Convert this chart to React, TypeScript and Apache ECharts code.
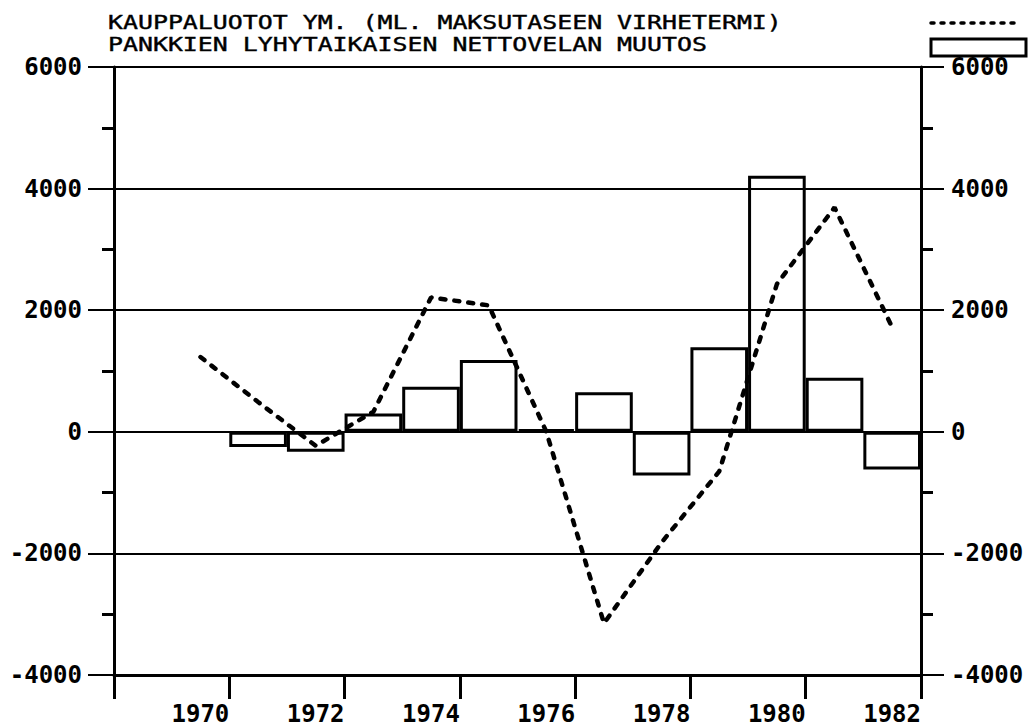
import React, { useEffect, useRef } from "react";
import * as echarts from "echarts";

const years = ["1969", "1970", "1971", "1972", "1973", "1974", "1975", "1976", "1977", "1978", "1979", "1980", "1981", "1982"];
const barValues = [null, null, -250, -330, 300, 740, 1180, 40, 650, -720, 1390, 4210, 890, -620];
const lineValues = [null, 1230, 490, -230, 330, 2210, 2080, 0, -3150, -1820, -650, 2430, 3690, 1720];
const xTickValues = [1968, 1970, 1972, 1974, 1976, 1978, 1980, 1982];
const titleLine1 = "KAUPPALUOTOT YM. (ML. MAKSUTASEEN VIRHETERMI)";
const titleLine2 = "PANKKIEN LYHYTAIKAISEN NETTOVELAN MUUTOS";

const MONO = '"DejaVu Sans Mono", "Liberation Mono", monospace';

export default function App() {
  const ref = useRef<HTMLDivElement>(null);
  useEffect(() => {
    document.body.style.margin = "0";
    const chart = echarts.init(ref.current!, null, { renderer: "svg" });
    const labelStyle = {
      color: "#000",
      fontFamily: MONO,
      fontSize: 24,
      fontWeight: "bold",
    };
    const yBase = {
      type: "value",
      min: -4000,
      max: 6000,
      interval: 2000,
      axisLine: { show: true, onZero: false, lineStyle: { color: "#000", width: 3 } },
      minorTick: { show: true, splitNumber: 2, length: 12, lineStyle: { color: "#000", width: 3 } },
    };
    chart.setOption({
      animation: false,
      backgroundColor: "#fff",
      grid: { left: 114, right: 107, top: 67, bottom: 52 },
      xAxis: [
        {
          type: "value",
          min: xTickValues[0],
          max: xTickValues[xTickValues.length - 1],
          interval: 2,
          axisLine: { show: true, onZero: false, lineStyle: { color: "#000", width: 3 } },
          axisTick: { show: true, length: 24, lineStyle: { color: "#000", width: 3 } },
          splitLine: { show: false },
          axisLabel: {
            ...labelStyle,
            align: "right",
            margin: 27,
            showMinLabel: true,
            showMaxLabel: true,
            formatter: (v: number) => (v === xTickValues[0] ? "" : String(v)),
          },
        },
        { type: "category", data: years, show: false, boundaryGap: true },
      ],
      yAxis: [
        {
          ...yBase,
          position: "left",
          axisTick: { show: true, length: 26, lineStyle: { color: "#000", width: 2 } },
          splitLine: { show: true, lineStyle: { color: "#000", width: 2 } },
          axisLabel: { ...labelStyle, margin: 32, formatter: (v: number) => String(v) },
        },
        {
          ...yBase,
          position: "right",
          axisTick: { show: true, length: 23, lineStyle: { color: "#000", width: 2 } },
          splitLine: { show: false },
          axisLabel: { ...labelStyle, margin: 30, formatter: (v: number) => String(v) },
        },
      ],
      series: [
        {
          type: "bar",
          xAxisIndex: 1,
          yAxisIndex: 0,
          data: barValues,
          barWidth: "100%",
          itemStyle: { color: "rgba(0,0,0,0)", borderColor: "#000", borderWidth: 3 },
          z: 3,
        },
        {
          type: "line",
          xAxisIndex: 1,
          yAxisIndex: 0,
          data: lineValues,
          symbol: "none",
          smooth: false,
          lineStyle: { color: "#000", width: 4.5, type: [5, 9], cap: "round" },
          z: 4,
        },
      ],
      graphic: [
        {
          type: "text",
          x: 108,
          y: 22,
          scaleX: 1.31,
          style: { text: titleLine1, fontFamily: MONO, fontSize: 19, fill: "#000", verticalAlign: "middle", stroke: "#000", lineWidth: 0.4 },
        },
        {
          type: "text",
          x: 108,
          y: 44,
          scaleX: 1.31,
          style: { text: titleLine2, fontFamily: MONO, fontSize: 19, fill: "#000", verticalAlign: "middle", stroke: "#000", lineWidth: 0.4 },
        },
        {
          type: "line",
          shape: { x1: 931, y1: 23, x2: 1018, y2: 23 },
          style: { stroke: "#000", lineWidth: 3.5, lineDash: [3, 7], lineCap: "round" },
        },
        {
          type: "rect",
          z: 100,
          shape: { x: 931, y: 39, width: 95, height: 17 },
          style: { fill: "#fff", stroke: "#000", lineWidth: 3 },
        },
      ],
    });
    return () => chart.dispose();
  }, []);
  return <div ref={ref} style={{ width: 1028, height: 727 }} />;
}
